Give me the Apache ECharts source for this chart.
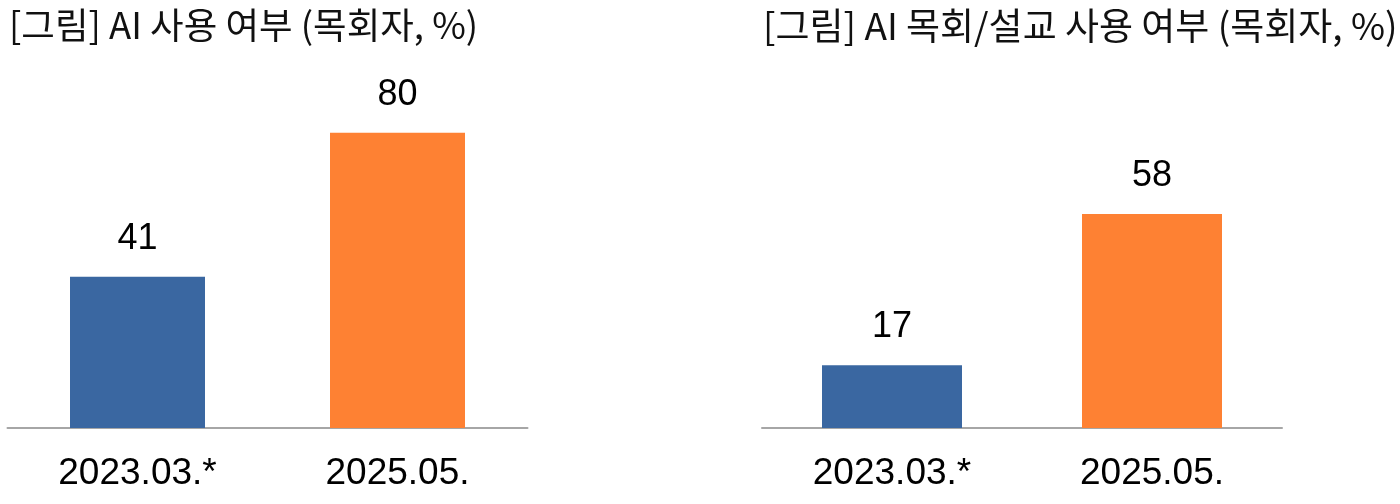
<!DOCTYPE html>
<html>
<head>
<meta charset="utf-8">
<script src="https://cdn.jsdelivr.net/npm/echarts@6/dist/echarts.min.js"></script>
<style>
html,body{margin:0;padding:0;background:#fff;}
#main{width:1400px;height:504px;}
</style>
</head>
<body>
<div id="main"></div>
<script>
const categories = ['2023.03.*', '2025.05.'];
const aiUse = [41, 80];
const aiSermonUse = [17, 58];
const chartTitles = ['[그림] AI 사용 여부 (목회자, %)', '[그림] AI 목회/설교 사용 여부 (목회자, %)'];
const barColors = ['#3A67A1', '#FE8133'];

const chart = echarts.init(document.getElementById('main'));
const titleFont = '"Noto Sans CJK KR", "Noto Sans", sans-serif';
const numFont = '"Liberation Sans", Arial, sans-serif';

function withColors(vals) {
  return vals.map((v, i) => ({ value: v, itemStyle: { color: barColors[i] } }));
}

function xAxisCfg(gi) {
  return {
    type: 'category', gridIndex: gi, data: categories,
    axisLine: { show: true, lineStyle: { color: '#A6A6A6', width: 2 } },
    axisTick: { show: false },
    axisLabel: { fontFamily: numFont, fontSize: 37, color: '#000', margin: 27, interval: 0 },
    splitLine: { show: false }
  };
}
function yAxisCfg(gi) {
  return { type: 'value', gridIndex: gi, min: 0, max: 100, show: false, splitLine: { show: false } };
}
function seriesCfg(gi, vals, bw) {
  return {
    type: 'bar', xAxisIndex: gi, yAxisIndex: gi, data: withColors(vals), barWidth: bw,
    label: { show: true, position: 'top', distance: 20, fontFamily: numFont, fontSize: 36, color: '#000' },
    emphasis: { disabled: true }, animation: false
  };
}

chart.setOption({
  backgroundColor: '#fff',
  animation: false,
  title: [
    { text: chartTitles[0], left: 9, top: 7, padding: 0, textStyle: { fontFamily: titleFont, fontSize: 36.5, fontWeight: 'normal', color: '#111' } },
    { text: chartTitles[1], left: 763, top: 7, padding: 0, textStyle: { fontFamily: titleFont, fontSize: 37, fontWeight: 'normal', color: '#111' } }
  ],
  grid: [
    { left: 7.5, width: 520, top: 59, height: 369, containLabel: false },
    { left: 762, width: 520, top: 59, height: 369, containLabel: false }
  ],
  xAxis: [xAxisCfg(0), xAxisCfg(1)],
  yAxis: [yAxisCfg(0), yAxisCfg(1)],
  series: [seriesCfg(0, aiUse, 135), seriesCfg(1, aiSermonUse, 140)]
});
</script>
</body>
</html>
